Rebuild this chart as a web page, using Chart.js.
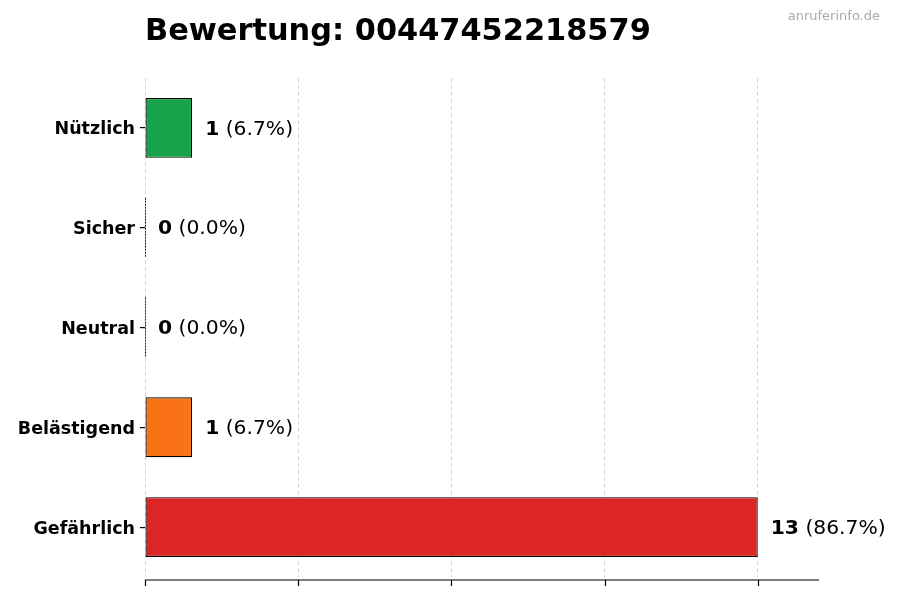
<!DOCTYPE html>
<html>
<head>
<meta charset="utf-8">
<script src="https://cdn.jsdelivr.net/npm/chart.js@4.4.1/dist/chart.umd.min.js"></script>
<style>
  html, body { margin: 0; padding: 0; background: #fff; }
  #wrap { width: 900px; height: 600px; position: relative; }
</style>
</head>
<body>
<div id="wrap"><canvas id="chartBewertung" width="900" height="600"></canvas></div>
<script>
// data
var kategorien = ["Nützlich", "Sicher", "Neutral", "Belästigend", "Gefährlich"];
var anzahl = [1, 0, 0, 1, 13];
var prozent = ["6.7%", "0.0%", "0.0%", "6.7%", "86.7%"];
var farben = ["#16a34a", "#2563eb", "#9ca3af", "#f97316", "#dc2626"];
var xTicks = [0, 3.25, 6.5, 9.75, 13];
var xMax = 14.3;

var titel = "Bewertung: 00447452218579";
var quelle = "anruferinfo.de";
var fontName = "'DejaVu Sans', sans-serif";

// title, watermark, value labels, bottom axis
var extras = {
    id: 'extras',
    afterDraw: function (chart) {
        var ctx = chart.ctx;
        var area = chart.chartArea;
        var xs = chart.scales.x;
        ctx.save();

        ctx.fillStyle = '#000';
        ctx.font = "bold 30.4px " + fontName;
        ctx.textAlign = 'left';
        ctx.textBaseline = 'alphabetic';
        ctx.fillText(titel, 145, 40);

        ctx.fillStyle = '#aaaaaa';
        ctx.font = "13px " + fontName;
        ctx.textAlign = 'right';
        ctx.textBaseline = 'middle';
        ctx.fillText(quelle, 880, 17);

        // bottom axis line and ticks
        var yAxis = area.bottom + 3;
        ctx.strokeStyle = '#000';
        ctx.lineWidth = 1.2;
        ctx.beginPath();
        ctx.moveTo(area.left, yAxis);
        ctx.lineTo(area.right, yAxis);
        xTicks.forEach(function (t) {
            var px = Math.round(xs.getPixelForValue(t)) + 0.5;
            ctx.moveTo(px, yAxis);
            ctx.lineTo(px, yAxis + 6);
        });
        ctx.stroke();

        // value labels
        var meta = chart.getDatasetMeta(0);
        meta.data.forEach(function (bar, i) {
            var x = bar.x + 13;
            var y = bar.y + 1.5;
            ctx.textAlign = 'left';
            ctx.textBaseline = 'middle';
            ctx.fillStyle = '#000';
            ctx.font = "bold 20.3px " + fontName;
            var num = String(anzahl[i]);
            ctx.fillText(num, x, y);
            var w = ctx.measureText(num).width;
            ctx.font = "20.3px " + fontName;
            ctx.fillText(" (" + prozent[i] + ")", x + w, y);

            // zero bars still show their edge
            if (anzahl[i] === 0) {
                var h = bar.height;
                ctx.strokeStyle = '#222';
                ctx.lineWidth = 1;
                ctx.setLineDash([2, 1]);
                ctx.beginPath();
                ctx.moveTo(bar.base + 0.5, bar.y - h / 2);
                ctx.lineTo(bar.base + 0.5, bar.y + h / 2);
                ctx.stroke();
                ctx.setLineDash([]);
            }
        });

        ctx.restore();
    }
};

var ctx = document.getElementById('chartBewertung').getContext('2d');
var chartB = new Chart(ctx, {
    type: 'bar',
    data: {
        labels: kategorien,
        datasets: [{
            label: 'Bewertungen',
            data: anzahl,
            backgroundColor: farben,
            borderColor: '#000',
            borderWidth: 1.2,
            borderSkipped: false,
            barPercentage: 0.6,
            categoryPercentage: 1.0
        }]
    },
    options: {
        indexAxis: 'y',
        responsive: false,
        animation: false,
        layout: { padding: { top: 78, right: 81, bottom: 23, left: 0 } },
        plugins: {
            legend: { display: false },
            tooltip: { enabled: false }
        },
        scales: {
            x: {
                min: 0,
                max: xMax,
                afterBuildTicks: function (scale) {
                    scale.ticks = xTicks.map(function (v) { return { value: v }; });
                },
                ticks: { display: false },
                grid: {
                    color: '#d4d4d4',
                    lineWidth: 1,
                    drawTicks: false
                },
                border: { display: false, dash: [4, 3] }
            },
            y: {
                afterFit: function (scale) { scale.width = 145; },
                ticks: {
                    color: '#000',
                    padding: 5,
                    labelOffset: 2,
                    font: { family: fontName, size: 17.5, weight: 'bold' }
                },
                grid: {
                    offset: false,
                    drawOnChartArea: false,
                    drawTicks: true,
                    tickLength: 5,
                    color: '#000',
                    lineWidth: 1.2
                },
                border: { display: false }
            }
        }
    },
    plugins: [extras]
});
</script>
</body>
</html>
